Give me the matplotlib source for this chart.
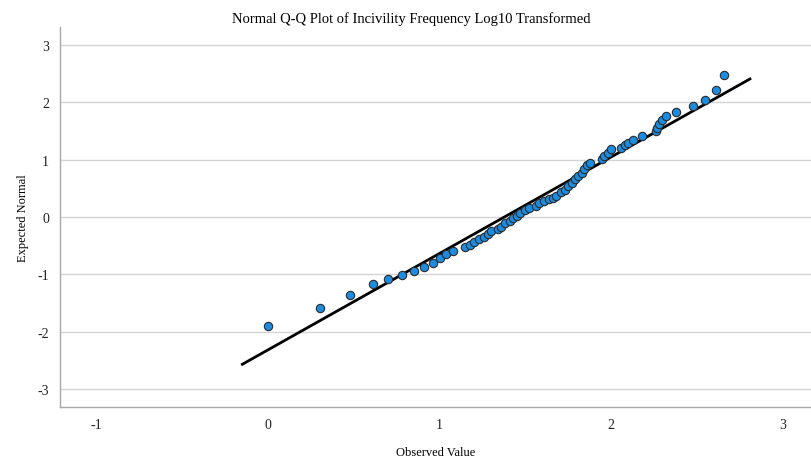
"""
Normal Q-Q plot of incivility frequency (log10 transformed), SPSS style.
"""

import matplotlib
matplotlib.use("Agg")
import matplotlib.pyplot as plt

observed = [
    0.00, 0.30, 0.48, 0.61, 0.70, 0.78, 0.85, 0.91, 0.96, 1.00,
    1.04, 1.08, 1.15, 1.18, 1.20, 1.23, 1.26, 1.28, 1.30, 1.34,
    1.36, 1.38, 1.41, 1.43, 1.45, 1.47, 1.50, 1.52, 1.56, 1.58,
    1.61, 1.64, 1.66, 1.68, 1.71, 1.73, 1.75, 1.77, 1.79, 1.81,
    1.83, 1.84, 1.86, 1.88, 1.95, 1.96, 1.98, 2.00, 2.06, 2.08,
    2.10, 2.13, 2.18, 2.26, 2.27, 2.28, 2.30, 2.32, 2.38, 2.48,
    2.55, 2.61, 2.66,
]
expected = [
    -1.90, -1.58, -1.36, -1.17, -1.09, -1.01, -0.94, -0.88, -0.81, -0.72,
    -0.65, -0.59, -0.52, -0.49, -0.44, -0.39, -0.34, -0.29, -0.24, -0.21,
    -0.17, -0.11, -0.07, -0.02, 0.02, 0.07, 0.12, 0.16, 0.20, 0.24,
    0.28, 0.31, 0.34, 0.37, 0.43, 0.48, 0.54, 0.59, 0.66, 0.71,
    0.77, 0.83, 0.90, 0.95, 1.01, 1.07, 1.12, 1.19, 1.21, 1.26,
    1.30, 1.35, 1.42, 1.50, 1.56, 1.62, 1.69, 1.76, 1.84, 1.94,
    2.05, 2.22, 2.48,
]

# reference line end points
line_x = [-0.15, 2.81]
line_y = [-2.57, 2.41]

x_ticks = [-1, 0, 1, 2, 3]
y_ticks = [-3, -2, -1, 0, 1, 2, 3]

SERIF = ["Liberation Serif", "DejaVu Serif"]

fig = plt.figure(figsize=(8.12, 4.6), dpi=100)
ax = fig.add_axes([0.074, 0.113, 0.926, 0.826])

for y in y_ticks:
    ax.axhline(y, color="#d4d4d4", linewidth=1.0, zorder=0)

ax.plot(line_x, line_y, color="black", linewidth=2.0, zorder=2)
ax.scatter(observed, expected, s=36, facecolor="#1c8ce0", edgecolor="#2b2b2b",
           linewidth=0.8, zorder=3)

ax.set_xlim(-1.213, 3.172)
ax.set_ylim(-3.316, 3.316)
ax.set_xticks(x_ticks)
ax.set_yticks(y_ticks)
ax.set_xticklabels([str(t) for t in x_ticks], family=SERIF, fontsize=10)
ax.set_yticklabels([str(t) for t in y_ticks], family=SERIF, fontsize=10)
ax.tick_params(length=0, pad=8, colors="#222222")

for side in ["top", "right"]:
    ax.spines[side].set_visible(False)
for side in ["left", "bottom"]:
    ax.spines[side].set_color("#a8a8a8")
    ax.spines[side].set_linewidth(1.0)

ax.set_xlabel("Observed Value", family=SERIF, fontsize=9, labelpad=11)
ax.set_ylabel("Expected Normal", family=SERIF, fontsize=9, labelpad=6)
fig.text(0.507, 0.958, "Normal Q-Q Plot of Incivility Frequency Log10 Transformed",
         ha="center", va="center", family=SERIF, fontsize=10.5)

fig.savefig("out.png", dpi=100)
plt.close(fig)
